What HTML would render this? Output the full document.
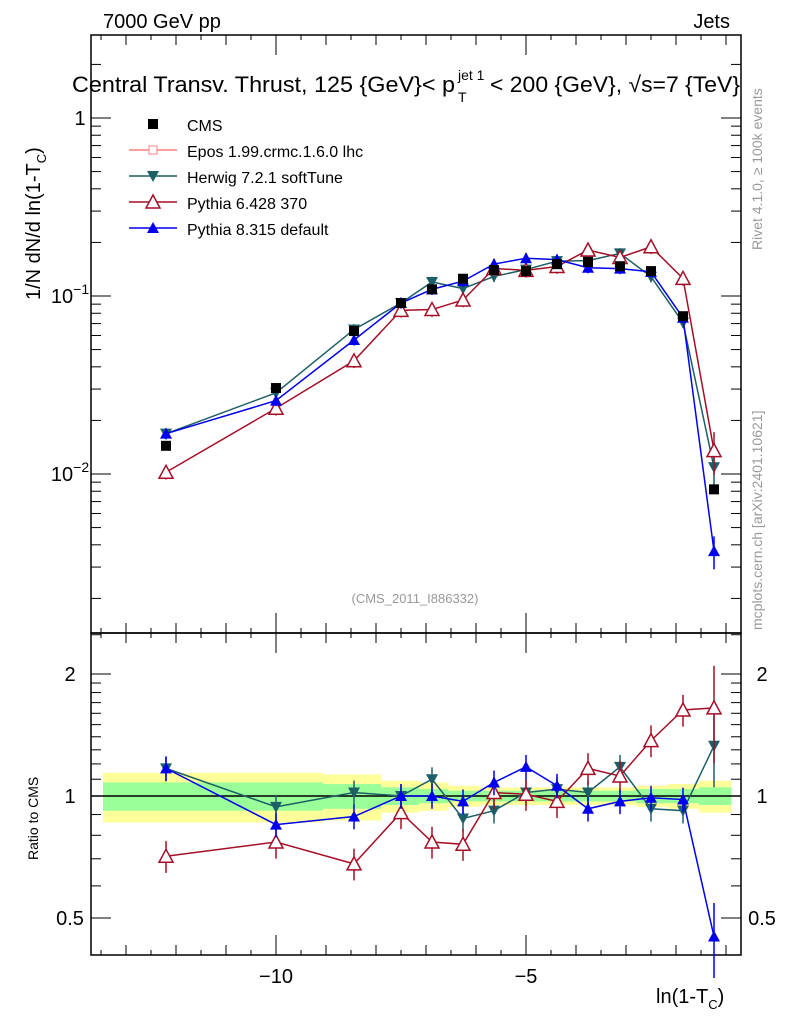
<!DOCTYPE html>
<html><head><meta charset="utf-8">
<style>body{margin:0;background:#fff}svg{display:block;font-family:"Liberation Sans",sans-serif}</style>
</head><body>
<svg id="c" width="786" height="1024"></svg>
<script>
const xs=[-12.2,-10.0,-8.44,-7.5,-6.88,-6.26,-5.64,-5.0,-4.38,-3.76,-3.12,-2.5,-1.86,-1.24];
const cms=[0.0144,0.0304,0.0636,0.0913,0.109,0.125,0.140,0.138,0.151,0.155,0.147,0.138,0.077,0.0082];
const herwigRatio=[1.17,0.94,1.02,1.0,1.10,0.88,0.92,1.02,1.04,1.02,1.18,0.93,0.92,1.33];
const py6Ratio=[0.71,0.77,0.68,0.91,0.77,0.76,1.02,1.01,0.97,1.17,1.12,1.37,1.63,1.65];
const py8Ratio=[1.17,0.85,0.89,1.0,1.0,0.97,1.08,1.18,1.06,0.93,0.97,0.99,0.98,0.45];
const binEdges=[-13.46,-10.9,-9.06,-7.9,-7.14,-6.56,-5.94,-5.3,-4.68,-4.06,-3.42,-2.8,-2.16,-1.54,-0.9];
const yellowHalf=[0.14,0.14,0.13,0.09,0.08,0.06,0.05,0.05,0.05,0.05,0.05,0.06,0.07,0.09];
const greenHalf=[0.08,0.08,0.07,0.05,0.04,0.03,0.03,0.03,0.03,0.03,0.03,0.04,0.04,0.05];
const NS="http://www.w3.org/2000/svg",S=document.getElementById('c');
function el(t,a,p){const e=document.createElementNS(NS,t);for(const k in a)e.setAttribute(k,a[k]);(p||S).appendChild(e);return e;}
const X=v=>526+(v+5)*50;
const Y=v=>118-Math.log10(v)*178;
const R=v=>796-Math.log2(v)*122;
const L=91,Rt=741,T=35,M=633,B=955;
for(let i=0;i<yellowHalf.length;i++){
 let r=el('rect',{x:X(binEdges[i]),y:R(1+yellowHalf[i]),width:X(binEdges[i+1])-X(binEdges[i])+0.5,height:R(1-yellowHalf[i])-R(1+yellowHalf[i]),fill:'#ffff99'});
 
 
 let g=el('rect',{x:X(binEdges[i]),y:R(1+greenHalf[i]),width:X(binEdges[i+1])-X(binEdges[i])+0.5,height:R(1-greenHalf[i])-R(1+greenHalf[i]),fill:'#99ff99'});
 
 
}
el('line',{x1:L,x2:Rt,y1:R(1),y2:R(1),stroke:'#000','stroke-width':1.5});
el('rect',{x:L,y:T,width:Rt-L,height:M-T,fill:'none',stroke:'#000','stroke-width':1.5});
el('rect',{x:L,y:M,width:Rt-L,height:B-M,fill:'none',stroke:'#000','stroke-width':1.5});
for(let v=-13;v<=-1;v++){const mj=v%5==0;const x=X(v);
 el('line',{x1:x,x2:x,y1:M,y2:M-(mj?20:10),stroke:'#000'});el('line',{x1:x,x2:x,y1:T,y2:T+(mj?20:10),stroke:'#000'});
 el('line',{x1:x,x2:x,y1:B,y2:B-(mj?20:10),stroke:'#000'});el('line',{x1:x,x2:x,y1:M,y2:M+(mj?20:10),stroke:'#000'});
 if(mj){const t=el('text',{x:x,y:983,'font-size':20,'text-anchor':'middle'});t.textContent='\u2212'+(-v);}
}
for(let v=-13.5;v<=-1;v+=0.5){if(v%1==0)continue;const x=X(v);
 [[M,-5],[T,5],[B,-5],[M,5]].forEach(([y,d])=>el('line',{x1:x,x2:x,y1:y,y2:y+d,stroke:'#000'}));}
for(let d=-3;d<=0;d++)for(let m=1;m<10;m++){const v=m*Math.pow(10,d);const y=Y(v);if(y<T||y>M)continue;
 const len=m==1?20:10;el('line',{x1:L,x2:L+len,y1:y,y2:y,stroke:'#000'});el('line',{x1:Rt,x2:Rt-len,y1:y,y2:y,stroke:'#000'});}
[[1,'1'],[0.1,'10'],[0.01,'10']].forEach(([v,s],i)=>{const t=el('text',{x:i?70:80,y:Y(v)+7,'font-size':20,'text-anchor':'middle'});t.textContent=s;
 if(i){const e=el('tspan',{dy:-9,'font-size':14},t);e.textContent='\u2212'+i;}});
[0.5,0.6,0.7,0.8,0.9,1,1.1,1.2,1.3,1.4,1.5,1.6,1.7,1.8,1.9,2,2.5].forEach(v=>{const y=R(v);const mj=[0.5,1,2].includes(v);const len=mj?20:10;
 el('line',{x1:L,x2:L+len,y1:y,y2:y,stroke:'#000'});el('line',{x1:Rt,x2:Rt-len,y1:y,y2:y,stroke:'#000'});
 if(mj){const s=v==0.5?'0.5':String(v);[[70,'middle'],[762,'middle']].forEach(([x,a])=>{const t=el('text',{x:x,y:y+7,'font-size':20,'text-anchor':a});t.textContent=s;});}});
function mark(type,x,y,c,g){
 if(type=='sq')el('rect',{x:x-5,y:y-5,width:10,height:10,fill:c},g);
 else if(type=='down')el('polygon',{points:`${x-6},${y-5} ${x+6},${y-5} ${x},${y+6}`,fill:c},g);
 else if(type=='up')el('polygon',{points:`${x-6},${y+5} ${x+6},${y+5} ${x},${y-6}`,fill:c},g);
 else if(type=='open')el('polygon',{points:`${x-7},${y+6} ${x+7},${y+6} ${x},${y-7}`,fill:'#fff',stroke:c,'stroke-width':1.5},g);
}
function series(name,vals,ratio,color,type,err){
 const g=el('g',{});
 el('polyline',{points:xs.map((x,i)=>X(x)+','+Y(vals[i])).join(' '),fill:'none',stroke:color,'stroke-width':1.5},g);
 el('polyline',{points:xs.map((x,i)=>X(x)+','+R(ratio[i])).join(' '),fill:'none',stroke:color,'stroke-width':1.5},g);
 xs.forEach((x,i)=>{const e=err*(i==13?3:1);
  el('line',{x1:X(x),x2:X(x),y1:Y(vals[i]*(1+e)),y2:Y(vals[i]*(1-e)),stroke:color,'stroke-width':1.5},g);
  el('line',{x1:X(x),x2:X(x),y1:R(ratio[i]*(1+e)),y2:R(ratio[i]*(1-e)),stroke:color,'stroke-width':1.5},g);
  mark(type,X(x),Y(vals[i]),color,g);mark(type,X(x),R(ratio[i]),color,g);});
}
series('herwig-series',cms.map((c,i)=>c*herwigRatio[i]),herwigRatio,'#1d5f66','down',0.07);
series('pythia6-series',cms.map((c,i)=>c*py6Ratio[i]),py6Ratio,'#a50f26','open',0.09);
series('pythia8-series',cms.map((c,i)=>c*py8Ratio[i]),py8Ratio,'#0000ee','up',0.07);
const cg=el('g',{});
xs.forEach((x,i)=>mark('sq',X(x),Y(cms[i]),'#000',cg));
function txt(s,a,name){const t=el('text',a);t.textContent=s;return t;}
txt('7000 GeV pp',{x:103,y:28,'font-size':20},'energy-label');
txt('Jets',{x:730,y:28,'font-size':20,'text-anchor':'end'},'process-label');
const ti=txt('Central Transv. Thrust, 125 {GeV}< p',{x:72,y:92,'font-size':22.5,textLength:383,lengthAdjust:'spacingAndGlyphs'},'plot-title');
const tj=el('text',{x:458,y:80,'font-size':14});tj.textContent='jet 1';
const tt=el('text',{x:458,y:102,'font-size':14});tt.textContent='T';
const t3=el('text',{x:490,y:92,'font-size':22.5,textLength:250,lengthAdjust:'spacingAndGlyphs'});t3.textContent='< 200 {GeV}, \u221As=7 {TeV}';
txt('(CMS_2011_I886332)',{x:415,y:603,'font-size':13,fill:'#999','text-anchor':'middle'},'analysis-id');
const yt=txt('1/N    dN/d ln(1-T',{transform:'translate(40,300) rotate(-90)','font-size':20},'y-axis-title');
let s4=el('tspan',{dy:6,'font-size':13},yt);s4.textContent='C';let s5=el('tspan',{dy:-6},yt);s5.textContent=')';
txt('Ratio to CMS',{transform:'translate(38,860) rotate(-90)','font-size':14},'ratio-axis-title');
const xt=txt('ln(1-T',{x:656,y:1003,'font-size':20},'x-axis-title');
let s6=el('tspan',{dy:6,'font-size':13},xt);s6.textContent='C';let s7=el('tspan',{dy:-6},xt);s7.textContent=')';
txt('Rivet 4.1.0, \u2265 100k events',{transform:'translate(762,250) rotate(-90)','font-size':14,fill:'#999'},'rivet-label');
txt('mcplots.cern.ch [arXiv:2401.10621]',{transform:'translate(762,630) rotate(-90)','font-size':14,fill:'#999'},'mcplots-label');
const leg=[['CMS','#000','sq'],['Epos 1.99.crmc.1.6.0 lhc','#ff7f7f','epos'],['Herwig 7.2.1 softTune','#1d5f66','down'],['Pythia 6.428 370','#a50f26','open'],['Pythia 8.315 default','#0000ee','up']];
leg.forEach(([s,c,t],i)=>{const y=124+i*26;const g=el('g',{});
 if(t!='sq')el('line',{x1:129,x2:177,y1:y,y2:y,stroke:c,'stroke-width':1.5},g);
 if(t=='epos')el('rect',{x:149,y:y-4,width:8,height:8,fill:'#fff',stroke:c},g);else mark(t,153,y,c,g);
 const tx=el('text',{x:187,y:y+7,'font-size':16},g);tx.textContent=s;});
</script>
</body></html>
